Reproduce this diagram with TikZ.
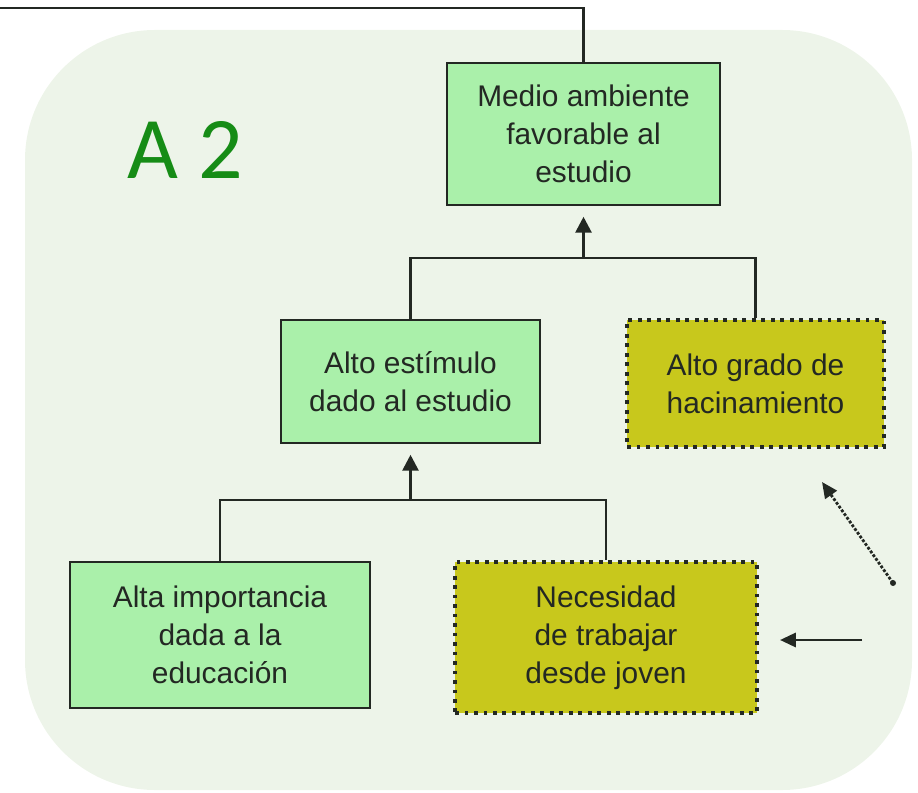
\documentclass[tikz,border=0pt]{standalone}
\usepackage{fontspec}
\setmainfont{Liberation Sans}
\newfontfamily\labelfont{Carlito}
\usetikzlibrary{arrows.meta, positioning}
\definecolor{cBack}{RGB}{237,244,233}
\definecolor{cBox}{RGB}{170,240,170}
\definecolor{cOlive}{RGB}{200,200,28}
\definecolor{cLine}{RGB}{35,40,35}
\definecolor{cLabel}{RGB}{22,140,22}
\tikzset{
  basebox/.style={rectangle, align=center, text=cLine,
                  font=\fontsize{17}{21.5}\selectfont},
  greenbox/.style={basebox, fill=cBox, draw=cLine, line width=1.4pt},
  olivebox/.style={basebox, fill=cOlive, draw=cLine, line width=2.2pt,
                   dash pattern=on 2.2pt off 3.2pt},
  link/.style={draw=cLine, line width=1.6pt},
  uparrow/.style={link, -{Triangle[length=9pt,width=9pt]}, shorten >=6pt},
  sidearrow/.style={link, -{Triangle[length=9pt,width=8pt]}}
}
\begin{document}
\begin{tikzpicture}[x=0.02cm, y=-0.02cm]
  \useasboundingbox (0,0) rectangle (918,793);

  % Background panel
  \fill[cBack, rounded corners=2.6cm] (25,30) rectangle (912,790);
  \node[font=\labelfont\fontsize{50}{50}\selectfont, text=cLabel]
      (lbl) at (185,150) {A 2};

  % Boxes
  \node[greenbox, minimum width=5.46cm, minimum height=2.84cm]
      (medio) at (583.5,134) {Medio ambiente\\favorable al\\estudio};
  \node[greenbox, minimum width=5.18cm, minimum height=2.46cm]
      (estimulo) at (410.5,381.5) {Alto estímulo\\dado al estudio};
  \node[olivebox, minimum width=5.14cm, minimum height=2.54cm]
      (hacin) at (755.5,383.5) {\vphantom{A}Alto grado de\\hacinamiento};
  \node[greenbox, minimum width=6.0cm, minimum height=2.92cm]
      (importa) at (220,635) {Alta importancia\\dada a la\\educación};
  \node[olivebox, minimum width=6.04cm, minimum height=3.02cm]
      (trabajo) at (606,637.5) {Necesidad\\de trabajar\\desde joven};

  % Junctions and free ends
  \coordinate (top) at (0,8);
  \coordinate (j1) at (583.5,258);
  \coordinate (j2) at (410.5,500);
  \coordinate (sideA) at (862,640);
  \coordinate (sideAend) at (780,640);
  \coordinate (sideB) at (893,583);
  \coordinate (sideBend) at (822,482);

  % Connectors
  \draw[link] (top) -| (medio.north);
  \draw[uparrow] (j1) -- (medio.south);
  \draw[link] (estimulo.north) |- (j1) -| (hacin.north);
  \draw[uparrow] (j2) -- (estimulo.south);
  \draw[link] (importa.north) |- (j2) -| (trabajo.north);

  % Side arrows
  \draw[sidearrow] (sideA) -- (sideAend);
  \draw[sidearrow, densely dotted] (sideB) -- (sideBend);
  \fill[cLine] (sideB) circle (3);
\end{tikzpicture}
\end{document}
